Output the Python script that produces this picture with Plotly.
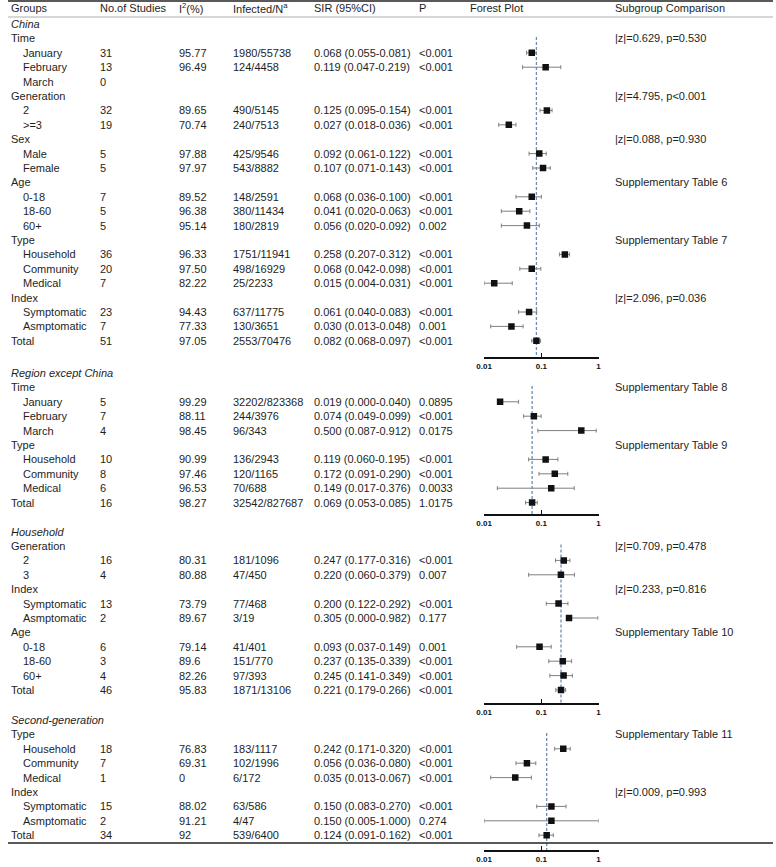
import plotly.graph_objects as go

W, H = 776, 867
FONT = "Liberation Sans, Arial, sans-serif"
TXT = "#1e1e1e"

# ---------------- data ----------------
headers = ["Groups", "No.of Studies", "I<sup>2</sup>(%)", "Infected/N<sup>a</sup>",
           "SIR (95%CI)", "P", "Forest Plot", "Subgroup Comparison"]

# China
china_groups = ["Time", "Generation", "Sex", "Age", "Type", "Index"]
china_items = [["January", "February", "March"], ["2", ">=3"], ["Male", "Female"],
               ["0-18", "18-60", "60+"], ["Household", "Community", "Medical"],
               ["Symptomatic", "Asmptomatic"]]
china_compare = ["|z|=0.629, p=0.530", "|z|=4.795, p<0.001", "|z|=0.088, p=0.930",
                 "Supplementary Table 6", "Supplementary Table 7", "|z|=2.096, p=0.036"]
# last entry of each list = Total row
china_studies = [31, 13, 0, 32, 19, 5, 5, 7, 5, 5, 36, 20, 7, 23, 7, 51]
china_i2 = ["95.77", "96.49", "", "89.65", "70.74", "97.88", "97.97", "89.52", "96.38",
            "95.14", "96.33", "97.50", "82.22", "94.43", "77.33", "97.05"]
china_inf = [1980, 124, None, 490, 240, 425, 543, 148, 380, 180, 1751, 498, 25, 637, 130, 2553]
china_n = [55738, 4458, None, 5145, 7513, 9546, 8882, 2591, 11434, 2819, 11941, 16929, 2233,
           11775, 3651, 70476]
china_sir = [0.068, 0.119, None, 0.125, 0.027, 0.092, 0.107, 0.068, 0.041, 0.056, 0.258, 0.068,
             0.015, 0.061, 0.030, 0.082]
china_lo = [0.055, 0.047, None, 0.095, 0.018, 0.061, 0.071, 0.036, 0.020, 0.020, 0.207, 0.042,
            0.004, 0.040, 0.013, 0.068]
china_hi = [0.081, 0.219, None, 0.154, 0.036, 0.122, 0.143, 0.100, 0.063, 0.092, 0.312, 0.098,
            0.031, 0.083, 0.048, 0.097]
china_p = ["<0.001", "<0.001", "", "<0.001", "<0.001", "<0.001", "<0.001", "<0.001", "<0.001",
           "0.002", "<0.001", "<0.001", "<0.001", "<0.001", "0.001", "<0.001"]

# Region except China
region_groups = ["Time", "Type"]
region_items = [["January", "February", "March"], ["Household", "Community", "Medical"]]
region_compare = ["Supplementary Table 8", "Supplementary Table 9"]
region_studies = [5, 7, 4, 10, 8, 6, 16]
region_i2 = ["99.29", "88.11", "98.45", "90.99", "97.46", "96.53", "98.27"]
region_inf = [32202, 244, 96, 136, 120, 70, 32542]
region_n = [823368, 3976, 343, 2943, 1165, 688, 827687]
region_sir = [0.019, 0.074, 0.500, 0.119, 0.172, 0.149, 0.069]
region_lo = [0.000, 0.049, 0.087, 0.060, 0.091, 0.017, 0.053]
region_hi = [0.040, 0.099, 0.912, 0.195, 0.290, 0.376, 0.085]
region_p = ["0.0895", "<0.001", "0.0175", "<0.001", "<0.001", "0.0033", "1.0175"]

# Household
house_groups = ["Generation", "Index", "Age"]
house_items = [["2", "3"], ["Symptomatic", "Asmptomatic"], ["0-18", "18-60", "60+"]]
house_compare = ["|z|=0.709, p=0.478", "|z|=0.233, p=0.816", "Supplementary Table 10"]
house_studies = [16, 4, 13, 2, 6, 3, 4, 46]
house_i2 = ["80.31", "80.88", "73.79", "89.67", "79.14", "89.6", "82.26", "95.83"]
house_inf = [181, 47, 77, 3, 41, 151, 97, 1871]
house_n = [1096, 450, 468, 19, 401, 770, 393, 13106]
house_sir = [0.247, 0.220, 0.200, 0.305, 0.093, 0.237, 0.245, 0.221]
house_lo = [0.177, 0.060, 0.122, 0.000, 0.037, 0.135, 0.141, 0.179]
house_hi = [0.316, 0.379, 0.292, 0.982, 0.149, 0.339, 0.349, 0.266]
house_p = ["<0.001", "0.007", "<0.001", "0.177", "0.001", "<0.001", "<0.001", "<0.001"]

# Second-generation
second_groups = ["Type", "Index"]
second_items = [["Household", "Community", "Medical"], ["Symptomatic", "Asmptomatic"]]
second_compare = ["Supplementary Table 11", "|z|=0.009, p=0.993"]
second_studies = [18, 7, 1, 15, 2, 34]
second_i2 = ["76.83", "69.31", "0", "88.02", "91.21", "92"]
second_inf = [183, 102, 6, 63, 4, 539]
second_n = [1117, 1996, 172, 586, 47, 6400]
second_sir = [0.242, 0.056, 0.035, 0.150, 0.150, 0.124]
second_lo = [0.171, 0.036, 0.013, 0.083, 0.005, 0.091]
second_hi = [0.320, 0.080, 0.067, 0.270, 1.000, 0.162]
second_p = ["<0.001", "<0.001", "<0.001", "<0.001", "0.274", "<0.001"]

forest_ticks = [0.01, 0.1, 1]
forest_ticktext = ["0.01", "0.1", "1"]

sections = [
    dict(title="China", groups=china_groups, items=china_items, compare=china_compare,
         studies=china_studies, i2=china_i2, inf=china_inf, n=china_n, sir=china_sir,
         lo=china_lo, hi=china_hi, p=china_p),
    dict(title="Region except China", groups=region_groups, items=region_items,
         compare=region_compare, studies=region_studies, i2=region_i2, inf=region_inf,
         n=region_n, sir=region_sir, lo=region_lo, hi=region_hi, p=region_p),
    dict(title="Household", groups=house_groups, items=house_items, compare=house_compare,
         studies=house_studies, i2=house_i2, inf=house_inf, n=house_n, sir=house_sir,
         lo=house_lo, hi=house_hi, p=house_p),
    dict(title="Second-generation", groups=second_groups, items=second_items,
         compare=second_compare, studies=second_studies, i2=second_i2, inf=second_inf,
         n=second_n, sir=second_sir, lo=second_lo, hi=second_hi, p=second_p),
]

# ---------------- layout constants ----------------
HEADER_Y = 8.5
TITLE_Y = [24, 373, 531.6, 720]
AXIS_Y = [357, 514, 703, 850]
PITCH = 14.4
COLX = dict(label=2, item=14, studies=92, i2=172, inf=227, sir=309, p=416, forest=468, comp=615)
HEAD_X = [COLX["label"], COLX["studies"], COLX["i2"], COLX["inf"], COLX["sir"], COLX["p"],
          COLX["forest"], COLX["comp"]]
FX0, FX1 = 483, 599
LOGMIN = -2
AXMIN = 10 ** LOGMIN

annotations = []


def txt(x, y, s, italic=False):
    annotations.append(dict(
        x=x / W, y=1 - y / H, xref="paper", yref="paper", text=s, showarrow=False,
        xanchor="left", yanchor="middle", borderpad=0,
        font=dict(family=FONT, size=11, color=TXT, style="italic" if italic else "normal")))


for hx, h in zip(HEAD_X, headers):
    txt(hx, HEADER_Y, h)

fig = go.Figure()
layout_axes = {}

for k, s in enumerate(sections):
    top = TITLE_Y[k]

    def ypx(i):
        return top + i * PITCH

    txt(COLX["label"], ypx(0), s["title"], italic=True)
    row = 1
    di = 0
    fy, fx, fplus, fminus = [], [], [], []

    def data_row(r, d):
        txt(COLX["studies"], ypx(r), str(s["studies"][d]))
        if s["i2"][d]:
            txt(COLX["i2"], ypx(r), s["i2"][d])
        if s["inf"][d] is not None:
            txt(COLX["inf"], ypx(r), f"{s['inf'][d]}/{s['n'][d]}")
        if s["sir"][d] is not None:
            sir, lo, hi = s["sir"][d], s["lo"][d], s["hi"][d]
            txt(COLX["sir"], ypx(r), f"{sir:.3f} ({lo:.3f}-{hi:.3f})")
            fy.append(r)
            fx.append(sir)
            fplus.append(min(hi, 1.0) - sir)
            fminus.append(sir - max(lo, AXMIN) if lo > 0 else 0)
        if s["p"][d]:
            txt(COLX["p"], ypx(r), s["p"][d])

    for g, items, comp in zip(s["groups"], s["items"], s["compare"]):
        txt(COLX["label"], ypx(row), g)
        txt(COLX["comp"], ypx(row), comp)
        row += 1
        for it in items:
            txt(COLX["item"], ypx(row), it)
            data_row(row, di)
            row += 1
            di += 1
    txt(COLX["label"], ypx(row), "Total")
    data_row(row, di)

    bottom_idx = (AXIS_Y[k] - top) / PITCH
    xa = "x" if k == 0 else f"x{k + 1}"
    ya = "y" if k == 0 else f"y{k + 1}"

    # reference (pooled total) line
    total_sir = s["sir"][-1]
    fig.add_trace(go.Scatter(
        x=[total_sir, total_sir], y=[0.9, bottom_idx], mode="lines",
        line=dict(color="#6f8db3", width=1.3, dash="3px,2px"),
        xaxis=xa, yaxis=ya, hoverinfo="skip", showlegend=False))

    fig.add_trace(go.Scatter(
        x=fx, y=fy, mode="markers",
        marker=dict(symbol="square", size=6.5, color="#111111"),
        error_x=dict(type="data", symmetric=False, array=fplus, arrayminus=fminus,
                     color="#7f7f7f", thickness=1, width=2),
        xaxis=xa, yaxis=ya, showlegend=False))

    sfx = "" if k == 0 else str(k + 1)
    layout_axes["xaxis" + sfx] = dict(
        domain=[FX0 / W, FX1 / W], type="log", range=[LOGMIN, 0], anchor=ya,
        showline=True, linecolor="#111111", linewidth=1.5, ticks="inside", ticklen=4,
        tickwidth=1.2, tickcolor="#111111", tickvals=forest_ticks, ticktext=forest_ticktext,
        tickfont=dict(family=FONT, size=8, color="#111111", weight="bold"),
        ticklabelstandoff=1, showgrid=False, zeroline=False, fixedrange=True)
    layout_axes["yaxis" + sfx] = dict(
        domain=[1 - AXIS_Y[k] / H, 1 - top / H], range=[bottom_idx, 0], anchor=xa,
        visible=False, showgrid=False, zeroline=False, fixedrange=True)

shapes = [
    dict(type="line", xref="paper", yref="paper", x0=0, x1=1, y0=1 - 1 / H, y1=1 - 1 / H,
         line=dict(color="#222222", width=1.5)),
    dict(type="line", xref="paper", yref="paper", x0=0, x1=1, y0=1 - 17 / H, y1=1 - 17 / H,
         line=dict(color="#999999", width=0.8)),
    dict(type="line", xref="paper", yref="paper", x0=0, x1=1, y0=1 - 843 / H, y1=1 - 843 / H,
         line=dict(color="#222222", width=1.3)),
]

fig.update_layout(
    width=W, height=H, margin=dict(l=0, r=0, t=0, b=0),
    paper_bgcolor="white", plot_bgcolor="white", showlegend=False,
    annotations=annotations, shapes=shapes, **layout_axes)

fig.write_html("out.html", config={"displayModeBar": False},
               post_script="document.body.style.margin='0';document.body.style.overflow='hidden';")
